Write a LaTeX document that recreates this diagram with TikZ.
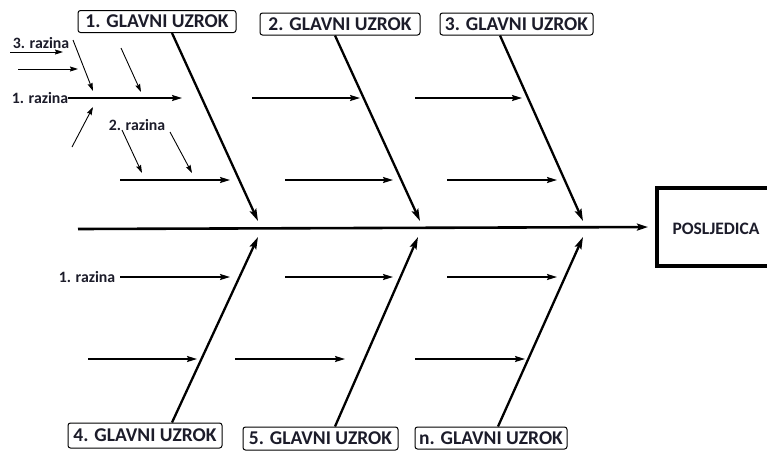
\documentclass[tikz,border=0pt]{standalone}
\usepackage{fontspec}
\setmainfont{Carlito}
\usetikzlibrary{arrows.meta}
\definecolor{txt}{HTML}{1C1C2A}
\begin{document}
\begin{tikzpicture}[x=1pt,y=-1pt,
  cause/.style={draw, rounded corners=2.5pt, line width=1pt, minimum height=22pt,
    inner sep=0pt, text=txt, font=\bfseries\fontsize{19.5}{20}\selectfont},
  effect/.style={draw, line width=4pt, minimum width=120pt, minimum height=78pt,
    inner sep=0pt},
  lbl/.style={inner sep=0pt, text=txt, font=\bfseries\fontsize{15.8}{17}\selectfont},
  bone/.style={line width=2.3pt, -{Stealth[length=12pt,width=7pt,inset=2pt]}},
  spine/.style={line width=2.6pt, -{Stealth[length=11pt,width=7pt,inset=2pt]}},
  sub/.style={line width=1.6pt, -{Stealth[length=10pt,width=6pt,inset=1.5pt]}},
  fine/.style={line width=0.9pt, -{Stealth[length=8pt,width=5pt,inset=1pt]}}
]
\useasboundingbox (0,0) rectangle (767,450);
\clip (0,0) rectangle (767,450);
\fill[white] (0,0) rectangle (767,450);

% cause boxes
\node[cause, minimum width=158pt] (c1) at (157,21.5) {1. GLAVNI UZROK};
\node[cause, minimum width=160pt] (c2) at (340,24) {2. GLAVNI UZROK};
\node[cause, minimum width=153pt] (c3) at (516.5,24) {3. GLAVNI UZROK};
\node[cause, minimum width=154pt, minimum height=25pt] (c4) at (145,435.5) {4. GLAVNI UZROK};
\node[cause, minimum width=155pt, minimum height=23pt] (c5) at (320.5,438.5) {5. GLAVNI UZROK};
\node[cause, minimum width=152pt] (c6) at (491,438) {n. GLAVNI UZROK};

% effect
\node[effect] (eff) at (717,227) {};
\node[lbl, font=\bfseries\fontsize{17.5}{18}\selectfont] (efft) at (716,229) {POSLJEDICA};

% spine
\coordinate (s0) at (78,229);
\draw[spine, shorten >=7pt] (s0) -- (eff.west);

% main bones
\coordinate (t1) at (258,221);
\coordinate (t2) at (420,221);
\coordinate (t3) at (583,221);
\coordinate (t4) at (258,237);
\coordinate (t5) at (418,237);
\coordinate (t6) at (583,237);
\draw[bone] ([xshift=15pt]c1.south) -- (t1);
\draw[bone] ([xshift=-5pt]c2.south) -- (t2);
\draw[bone] ([xshift=-16.5pt]c3.south) -- (t3);
\draw[bone] ([xshift=27pt]c4.north) -- (t4);
\draw[bone] ([xshift=14.5pt]c5.north) -- (t5);
\draw[bone] ([xshift=7pt]c6.north) -- (t6);

% sub-cause arrows
\foreach \xa/\xb/\yy [count=\i] in {68/182/98, 252/360/98, 415/522/98,
    120/230/180, 285/393/180, 447/557/180,
    120/230/277, 285/393/277, 447/557/277,
    88/197/359, 235/345/359, 415/525/359} {
  \coordinate (ha\i) at (\xa,\yy);
  \coordinate (hb\i) at (\xb,\yy);
  \draw[sub] (ha\i) -- (hb\i);
}

% labels
\node[lbl] (r3) at (41,43) {3. razina};
\node[lbl] (r1a) at (40,98) {1. razina};
\node[lbl] (r2) at (137,125) {2. razina};
\node[lbl] (r1b) at (87,277) {1. razina};

% fine arrows (level 2 and 3)
\foreach \xa/\ya/\xb/\yb [count=\i] in {10/52/63/52, 18/69/78/69,
    73/40/93/91, 121/48/141/92, 72/147/93/107,
    122/130/142/173, 170/132/192/173} {
  \coordinate (fa\i) at (\xa,\ya);
  \coordinate (fb\i) at (\xb,\yb);
  \draw[fine] (fa\i) -- (fb\i);
}
\end{tikzpicture}
\end{document}
